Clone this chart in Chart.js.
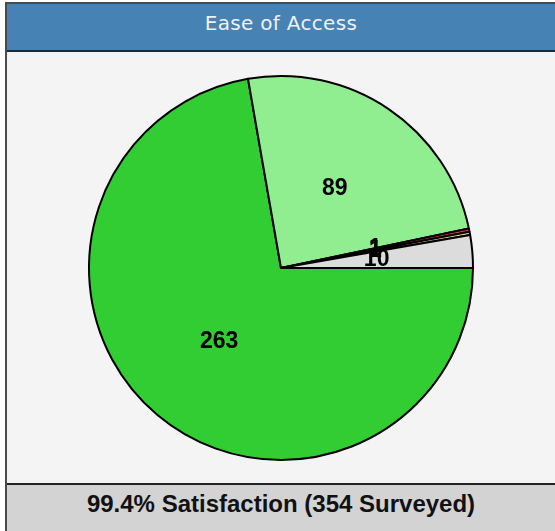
<!DOCTYPE html>
<html>
<head>
<meta charset="utf-8">
<script src="https://cdn.jsdelivr.net/npm/chart.js@4/dist/chart.umd.min.js"></script>
<style>
  html, body { margin: 0; padding: 0; background: #ffffff; }
  #wrap { position: absolute; left: 5px; top: 2px; width: 550px; height: 529px;
          border-left: 2px solid #4a4a4a; border-top: 2px solid #4a4a4a; background: #f4f4f4; }
  #title { position: absolute; left: 0; top: 0; width: 548px; height: 46px; background: #4682b4;
           border-bottom: 2px solid #1c2a36; color: #f0f0f0; font-family: "DejaVu Sans", Verdana, sans-serif;
           font-size: 20px; font-weight: normal; line-height: 38px; text-align: center; letter-spacing: 0.3px; }
  #chartbox { position: absolute; left: 0; top: 48px; width: 548px; height: 431px; }
  #footer { position: absolute; left: 0; top: 479px; width: 548px; height: 46px; background: #d3d3d3;
            border-top: 2px solid #222; border-bottom: 2px solid #888; font-family: "Liberation Sans", Arial, sans-serif;
            font-weight: bold; font-size: 24px; line-height: 38px; text-align: center; color: #111; }
</style>
</head>
<body>
<div id="wrap">
  <div id="title">Ease of Access</div>
  <div id="chartbox"><canvas id="c"></canvas></div>
  <div id="footer">99.4% Satisfaction (354 Surveyed)</div>
</div>
<script>
const categories = ["Very Easy", "Easy", "Difficult", "Very Difficult", "N/A"];
const values = [263, 89, 1, 1, 10];
const colors = ["#32cd32", "#90ee90", "#e8383d", "#e8dcaa", "#dcdcdc"];

const labelPlugin = {
  id: "sliceLabels",
  afterDatasetsDraw(chart) {
    const ctx = chart.ctx;
    const meta = chart.getDatasetMeta(0);
    ctx.save();
    ctx.font = "bold 23px 'Liberation Sans', Arial, sans-serif";
    ctx.fillStyle = "#000";
    ctx.textAlign = "center";
    ctx.textBaseline = "middle";
    meta.data.forEach((arc, i) => {
      const p = arc.getCenterPoint();
      ctx.fillText(String(values[i]), p.x, p.y);
    });
    ctx.restore();
  }
};

new Chart(document.getElementById("c"), {
  type: "pie",
  data: {
    labels: categories,
    datasets: [{
      data: values,
      backgroundColor: colors,
      borderColor: "#000",
      borderWidth: 2
    }]
  },
  options: {
    responsive: true,
    maintainAspectRatio: false,
    animation: false,
    rotation: 90,
    layout: { padding: { top: 23, bottom: 22, left: 0, right: 0 } },
    plugins: { legend: { display: false }, tooltip: { enabled: false }, title: { display: false } }
  },
  plugins: [labelPlugin]
});
</script>
</body>
</html>
